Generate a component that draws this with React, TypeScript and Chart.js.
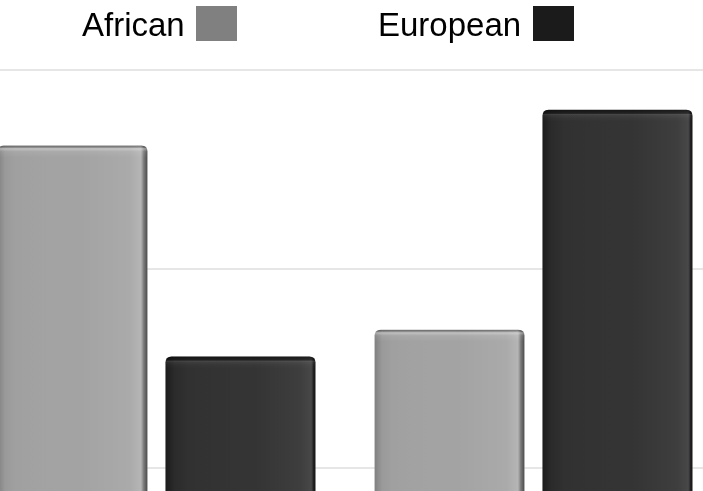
import { useEffect, useRef } from "react";
import { Chart, registerables } from "chart.js";

Chart.register(...registerables);

// Data
const categories = ["Group 1", "Group 2"];
const seriesNames = ["African", "European"];
const africanValues = [52.4, 33.9];
const europeanValues = [31.2, 56.0];
const yTickValues = [0, 20, 40, 60];

// Styling
const barColors = ["#a3a3a3", "#323232"];
const swatchColors = ["#808080", "#1b1b1b"];
const CANVAS_W = 754;
const CANVAS_H = 667;
const CANVAS_LEFT = -32;

// Legend placement (page coordinates)
const legendItems = [
  { textX: 82, boxX: 196 },
  { textX: 378, boxX: 533 },
];

function roundedTopPath(ctx: CanvasRenderingContext2D, l: number, t: number, r: number, b: number, rad: number) {
  ctx.beginPath();
  ctx.moveTo(l, b);
  ctx.lineTo(l, t + rad);
  ctx.quadraticCurveTo(l, t, l + rad, t);
  ctx.lineTo(r - rad, t);
  ctx.quadraticCurveTo(r, t, r, t + rad);
  ctx.lineTo(r, b);
  ctx.closePath();
}

// Adds the lit, bevelled look on top of each bar
const bevelPlugin = {
  id: "bevel",
  afterDatasetsDraw(chart: any) {
    const ctx: CanvasRenderingContext2D = chart.ctx;
    chart.data.datasets.forEach((_: any, di: number) => {
      const meta = chart.getDatasetMeta(di);
      const dark = di === 1;
      meta.data.forEach((bar: any) => {
        const { x, y, base, width } = bar.getProps(["x", "y", "base", "width"], true);
        const l = x - width / 2;
        const r = x + width / 2;
        const t = y;
        const b = base;
        ctx.save();
        roundedTopPath(ctx, l, t, r, b, 6);
        ctx.clip();
        // horizontal shading
        const hg = ctx.createLinearGradient(l, 0, r, 0);
        if (!dark) {
          hg.addColorStop(0, "rgba(0,0,0,0.22)");
          hg.addColorStop(0.05, "rgba(0,0,0,0.06)");
          hg.addColorStop(0.12, "rgba(0,0,0,0.02)");
          hg.addColorStop(0.55, "rgba(255,255,255,0)");
          hg.addColorStop(0.88, "rgba(255,255,255,0.08)");
          hg.addColorStop(0.955, "rgba(255,255,255,0.2)");
          hg.addColorStop(0.975, "rgba(0,0,0,0.25)");
          hg.addColorStop(1, "rgba(0,0,0,0.55)");
        } else {
          hg.addColorStop(0, "rgba(0,0,0,0.45)");
          hg.addColorStop(0.06, "rgba(0,0,0,0.15)");
          hg.addColorStop(0.15, "rgba(0,0,0,0.02)");
          hg.addColorStop(0.6, "rgba(255,255,255,0.01)");
          hg.addColorStop(0.9, "rgba(255,255,255,0.06)");
          hg.addColorStop(0.965, "rgba(255,255,255,0.1)");
          hg.addColorStop(0.985, "rgba(0,0,0,0.3)");
          hg.addColorStop(1, "rgba(0,0,0,0.6)");
        }
        ctx.fillStyle = hg;
        ctx.fillRect(l, t, r - l, b - t);
        // top rim
        const vg = ctx.createLinearGradient(0, t, 0, t + 12);
        if (!dark) {
          vg.addColorStop(0, "rgba(0,0,0,0.45)");
          vg.addColorStop(0.12, "rgba(0,0,0,0.15)");
          vg.addColorStop(0.25, "rgba(255,255,255,0.35)");
          vg.addColorStop(0.5, "rgba(255,255,255,0.08)");
          vg.addColorStop(1, "rgba(255,255,255,0)");
        } else {
          vg.addColorStop(0, "rgba(0,0,0,0.6)");
          vg.addColorStop(0.3, "rgba(0,0,0,0.35)");
          vg.addColorStop(0.45, "rgba(255,255,255,0.06)");
          vg.addColorStop(0.7, "rgba(255,255,255,0.02)");
          vg.addColorStop(1, "rgba(255,255,255,0)");
        }
        ctx.fillStyle = vg;
        ctx.fillRect(l, t, r - l, 12);
        ctx.restore();
      });
    });
  },
};

// Legend: label text followed by a colour swatch
const legendPlugin = {
  id: "swatchLegend",
  afterDraw(chart: any) {
    const ctx: CanvasRenderingContext2D = chart.ctx;
    ctx.save();
    ctx.font = '33px "Liberation Sans", Arial, Helvetica, sans-serif';
    ctx.textBaseline = "alphabetic";
    ctx.textAlign = "left";
    chart.data.datasets.forEach((ds: any, i: number) => {
      const item = legendItems[i];
      ctx.fillStyle = "#000000";
      ctx.fillText(ds.label, item.textX - CANVAS_LEFT, 36);
      ctx.fillStyle = swatchColors[i];
      ctx.fillRect(item.boxX - CANVAS_LEFT, 6, 41, 35);
    });
    ctx.restore();
  },
};

export default function App() {
  const canvasRef = useRef<HTMLCanvasElement | null>(null);

  useEffect(() => {
    if (!canvasRef.current) return;
    const chart = new Chart(canvasRef.current, {
      type: "bar",
      data: {
        labels: categories,
        datasets: [
          {
            label: seriesNames[0],
            data: africanValues,
            backgroundColor: barColors[0],
            borderRadius: { topLeft: 6, topRight: 6, bottomLeft: 0, bottomRight: 0 },
            borderSkipped: "start",
            categoryPercentage: 0.891,
            barPercentage: 0.893,
          },
          {
            label: seriesNames[1],
            data: europeanValues,
            backgroundColor: barColors[1],
            borderRadius: { topLeft: 6, topRight: 6, bottomLeft: 0, bottomRight: 0 },
            borderSkipped: "start",
            categoryPercentage: 0.891,
            barPercentage: 0.893,
          },
        ],
      },
      options: {
        responsive: false,
        animation: false,
        layout: { padding: { top: 70, left: 0, right: 0, bottom: 0 } },
        plugins: {
          legend: { display: false },
          tooltip: { enabled: false },
          title: { display: false },
        },
        scales: {
          x: { display: false },
          y: {
            display: true,
            min: yTickValues[0],
            max: yTickValues[yTickValues.length - 1],
            afterBuildTicks: (scale: any) => {
              scale.ticks = yTickValues.map((v) => ({ value: v }));
            },
            afterFit: (scale: any) => {
              scale.width = 0;
            },
            ticks: { display: false },
            border: { display: false },
            grid: { color: "#e6e6e6", lineWidth: 2, drawTicks: false },
          },
        },
      },
      plugins: [bevelPlugin, legendPlugin],
    });
    return () => chart.destroy();
  }, []);

  return (
    <div
      style={{
        position: "fixed",
        left: 0,
        top: 0,
        width: 703,
        height: 491,
        overflow: "hidden",
        background: "#ffffff",
      }}
    >
      <canvas
        ref={canvasRef}
        width={CANVAS_W}
        height={CANVAS_H}
        style={{ position: "absolute", left: CANVAS_LEFT, top: 0, width: CANVAS_W, height: CANVAS_H }}
      />
    </div>
  );
}
